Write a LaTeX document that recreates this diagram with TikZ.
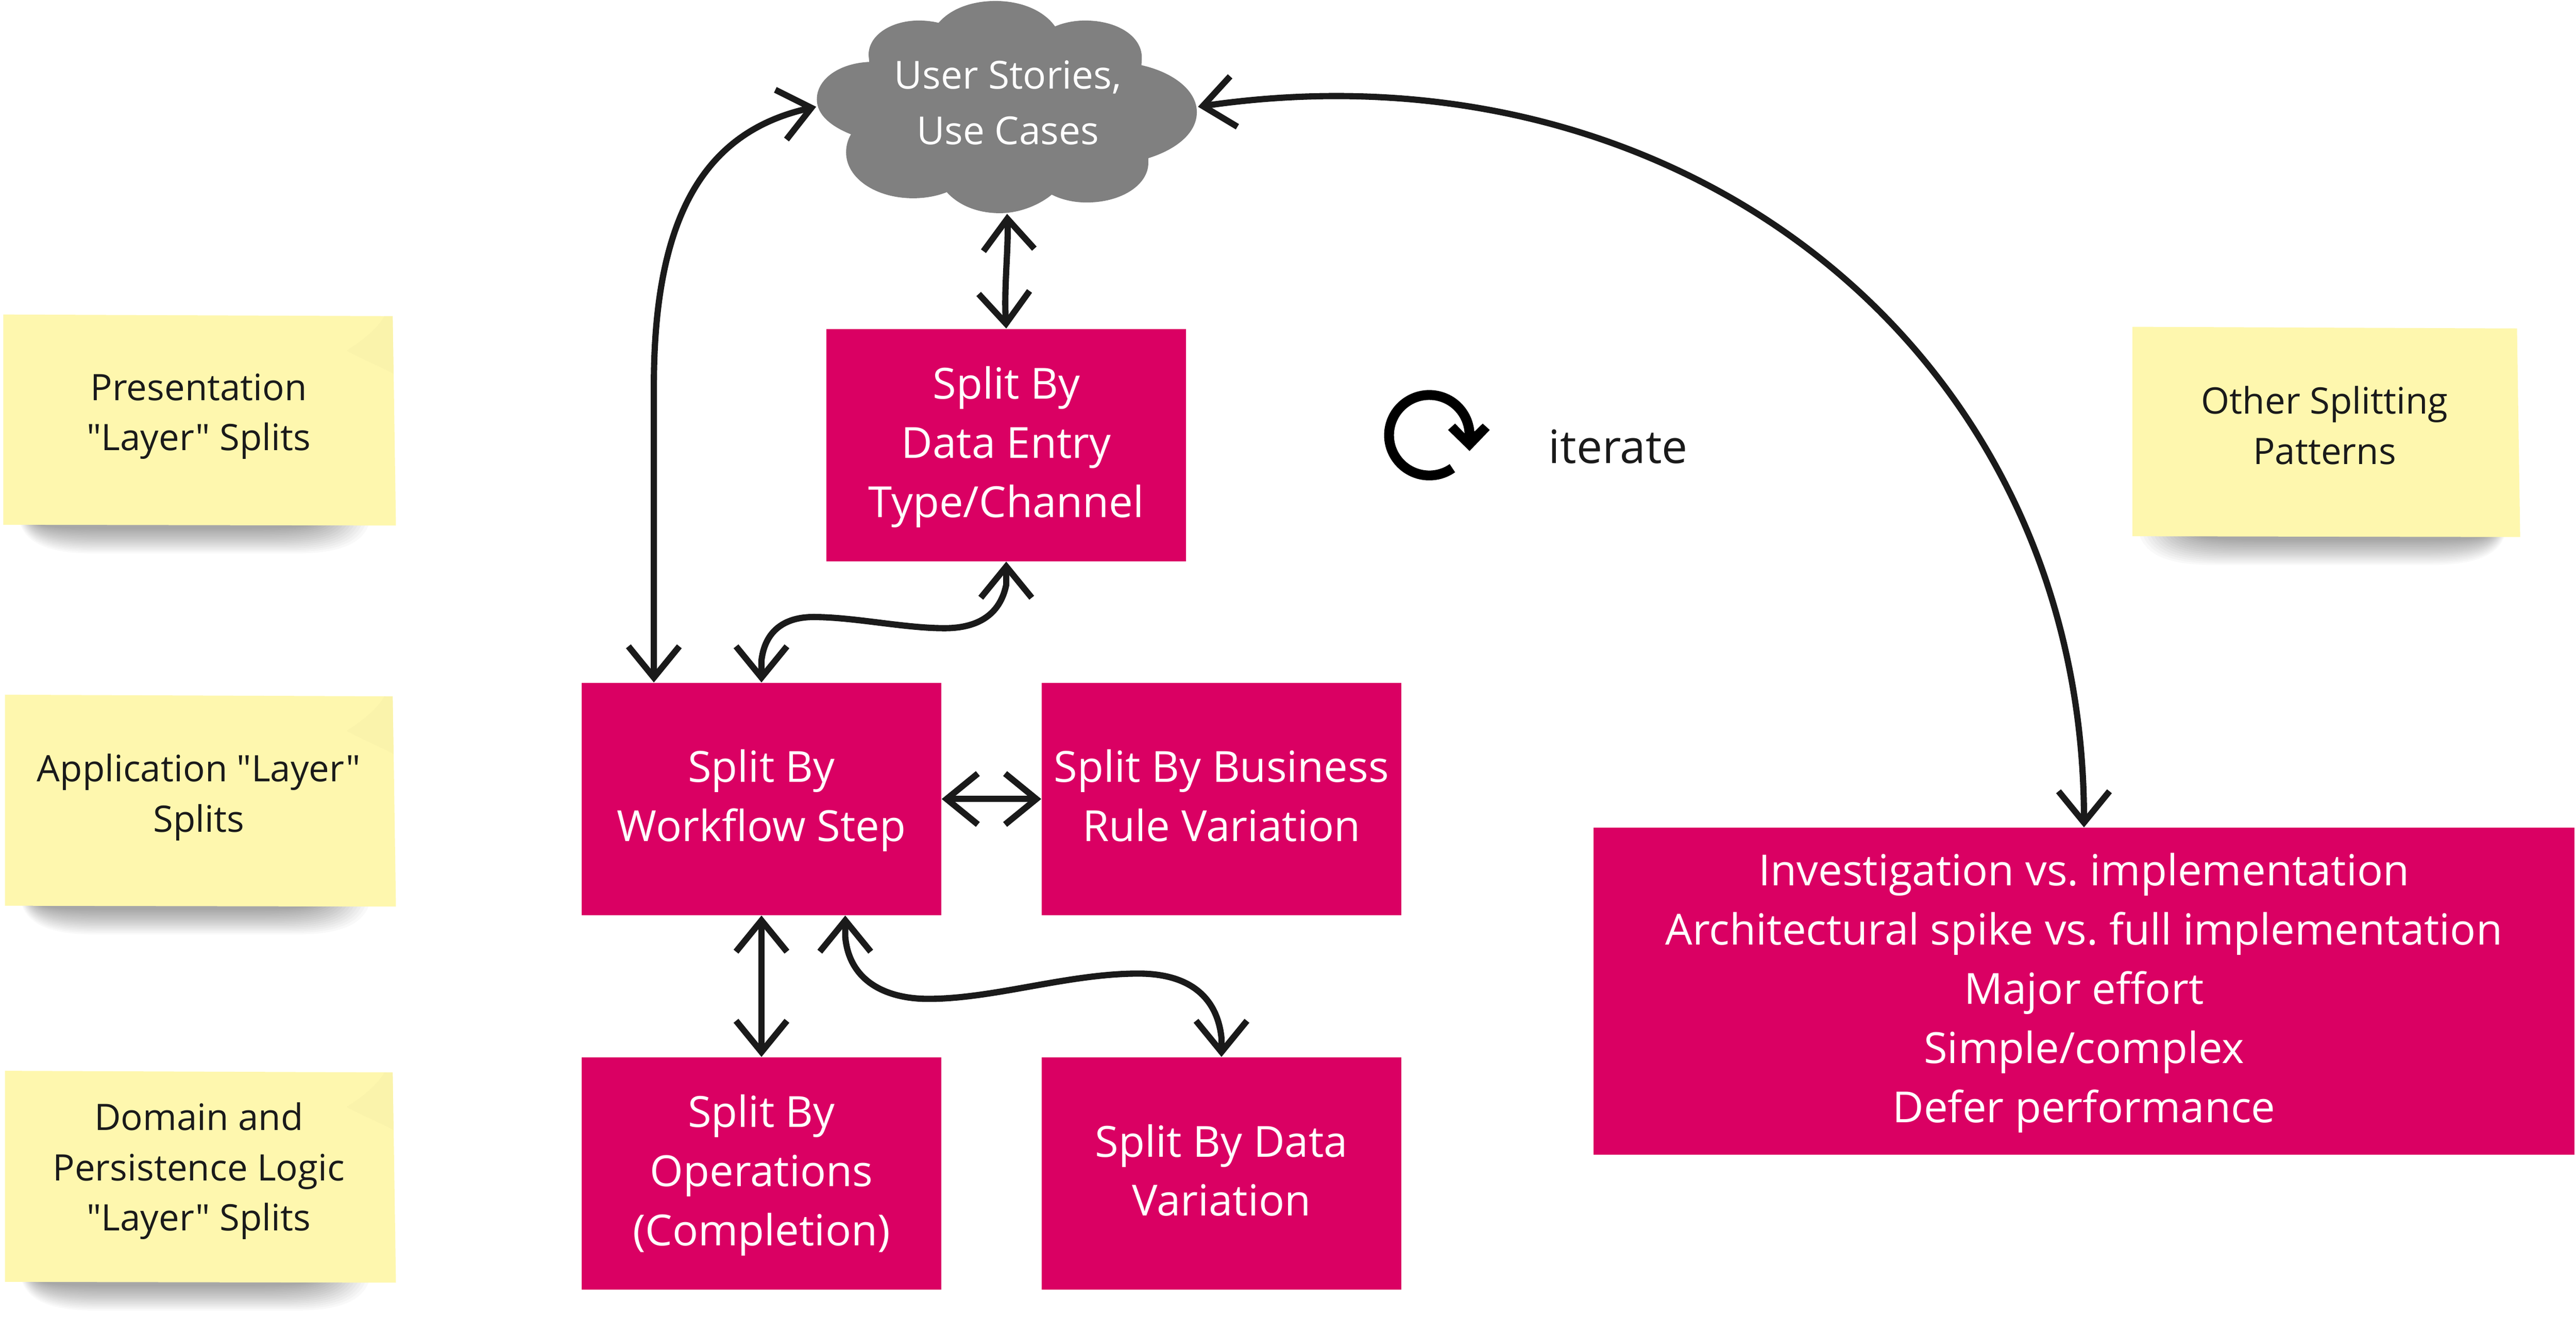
\documentclass[tikz,border=0pt]{standalone}
\usepackage{fontspec}
\setmainfont{Open Sans}[Ligatures=TeXOff]
\usetikzlibrary{arrows.meta,calc}
\definecolor{splitred}{HTML}{DA0063}
\definecolor{inkblack}{HTML}{1A1A1A}
\definecolor{stickyyellow}{HTML}{FEF7AE}
\definecolor{cloudgrey}{HTML}{808080}
\newcommand{\topstrut}{\rule{0pt}{25.2pt}}
\newcommand{\botstrut}{\rule[-9.5pt]{0pt}{0pt}}
\frenchspacing
\tikzset{
  x=1pt,y=-1pt,
  splitbox/.style={fill=splitred,text=white,inner sep=0pt,minimum width=219pt,minimum height=141.5pt,align=center,font=\fontsize{26.1}{36}\selectfont\frenchspacing},
  bigbox/.style={splitbox,minimum width=597pt,minimum height=199pt},
  stickytext/.style={text=inkblack,align=center,inner sep=0pt,font=\fontsize{22.2}{30.5}\selectfont},
  link/.style={draw=inkblack,line width=3.8pt,{Straight Barb[length=19pt,width=31pt]}-{Straight Barb[length=19pt,width=31pt]}},
}
% #1 left, #2 top, #3 right, #4 bottom, #5 fold shade, #6 left inset, #7 left rate, #8 right inset, #9 right rate
\newcommand{\stickynote}[9]{%
  \foreach \i in {0,...,15}{
    \pgfmathsetmacro{\xl}{#1+#6+\i*#7}
    \pgfmathsetmacro{\xr}{#3-#8-\i*#9}
    \pgfmathsetmacro{\dep}{17-\i}
    \fill[black,opacity=0.024]
      (\xl,#4-2) -- (\xr,#4-2)
      .. controls (\xr-4,#4+0.7*\dep) and (\xr-20,#4+\dep) .. (\xr-45,#4+\dep)
      -- (\xl+45,#4+\dep)
      .. controls (\xl+20,#4+\dep) and (\xl+4,#4+0.7*\dep) .. cycle;
  }
  \fill[stickyyellow] (#1,#2) -- (#3-1,#2+1) -- (#3-0.5,#2+30) -- (#3+1,#4) -- (#1,#4-0.5) -- cycle;
  \fill[#5] (#3-1,#2+1) -- (#3-0.5,#2+36) .. controls (#3-10,#2+31) and (#3-20,#2+27) .. (#3-29,#2+22) .. controls (#3-18,#2+15) and (#3-10,#2+8) .. (#3-6,#2+1) -- cycle;
}
\begin{document}
\begin{tikzpicture}
\useasboundingbox (0,0) rectangle (1568,803);
\fill[white] (0,0) rectangle (1568,803);

% sticky notes
\stickynote{2}{191.5}{240}{320}{stickyyellow!98.5!black}{10}{0.6}{15}{2.2}
\stickynote{3}{423}{240}{552}{stickyyellow!98.5!black}{10}{0.6}{15}{2.2}
\stickynote{3}{652}{240}{781}{stickyyellow!98.5!black}{10}{0.6}{15}{2.2}
\stickynote{1298}{199}{1533}{327}{stickyyellow}{4}{2.2}{8}{0.6}
\node[stickytext] (presentation) at (121,253.5) {Presentation\\"Layer" Splits};
\node[stickytext] (application) at (121,485.5) {Application "Layer"\\Splits};
\node[stickytext] (domain) at (121,713) {Domain and\\Persistence Logic\\"Layer" Splits};
\node[stickytext] (other) at (1415,259) {Other Splitting\\Patterns};

% cloud
\fill[cloudgrey] (571.3,13.9)
  .. controls (579,5) and (592,0.6) .. (606,0.6)
  .. controls (621,0.6) and (635,6) .. (642.2,16.1)
  .. controls (647.5,13.8) and (654,12.5) .. (660.5,12.5)
  .. controls (680,12.5) and (695,22) .. (695,35)
  -- (694.8,39.7)
  .. controls (714,44) and (728.5,55) .. (728.5,68.3)
  .. controls (728.5,81) and (716,91) .. (699,96.3)
  -- (699,99)
  .. controls (699,113) and (682,123.3) .. (661.4,123.3)
  .. controls (653.5,123.3) and (646,121.5) .. (640.2,118.5)
  .. controls (633,124.5) and (621,129.8) .. (608.6,129.8)
  .. controls (595,129.8) and (583.5,125) .. (576.3,117)
  .. controls (570,119.5) and (563,120.7) .. (555.8,120.7)
  .. controls (533,120.7) and (515,108.5) .. (515,92.7)
  .. controls (515,89) and (516,85) .. (518,81.8)
  .. controls (506,77) and (497.2,70) .. (497.2,60.5)
  .. controls (497.2,48) and (511,38.5) .. (529.1,37.7)
  -- (528.7,33.5)
  .. controls (528.7,21) and (543,12.5) .. (559.3,12.5)
  .. controls (563.5,12.5) and (567.5,13) .. (571.3,13.9) -- cycle;
\node[minimum width=232pt,minimum height=130pt,inner sep=0pt] (cloud) at (613,65) {};
\node[text=white,align=center,inner sep=0pt,font=\fontsize{23.5}{34}\selectfont] (cloudtext) at (613.5,62.5) {User Stories,\\Use Cases};

% boxes
\node[splitbox] (entry) at (612.5,271) {\topstrut Split By\\Data Entry\\Type/Channel\botstrut};
\node[splitbox] (workflow) at (463.5,486.5) {\topstrut Split By\\Workflow Step\botstrut};
\node[splitbox] (business) at (743.5,486.5) {\topstrut Split By Business\\Rule Variation\botstrut};
\node[splitbox] (operations) at (463.5,714.5) {\topstrut Split By\\Operations\\(Completion)\botstrut};
\node[splitbox] (datavar) at (743.5,714.5) {\topstrut Split By Data\\Variation\botstrut};
\node[bigbox] (big) at (1268.5,603.5) {\topstrut Investigation vs. implementation\\Architectural spike vs. full implementation\\Major effort\\Simple/complex\\Defer performance\botstrut};

% iterate
\draw[line width=6pt,black] (884.05,285.07) arc[start angle=55,end angle=357,radius=24.5];
\fill[black] (894.5,274.6) -- (906.8,261.8) -- (902.5,257.9) -- (897.8,262.5) -- (891.4,263.8) -- (885.7,257.9) -- (881.4,261.8) -- cycle;
\node[text=inkblack,inner sep=0pt,font=\fontsize{28}{36}\selectfont] (iterate) at (985,272) {iterate};

% connectors
\draw[link] (cloud.south) .. controls (614,150) and (611,175) .. (entry.north);
\draw[link] (cloud.west) .. controls (430,80) and (398,130) .. (398,235) -- ($(workflow.north)+(-65.5,0)$);
\draw[link] (cloud.east) .. controls (1025,22) and (1268.5,215) .. (big.north);
\draw[link] (entry.south) -- +(0,14) .. controls (608,378) and (590,382.5) .. (575,382.5)
  .. controls (550,382.5) and (520,375.7) .. (495,375.7)
  .. controls (480,375.7) and (466,382) .. (463.5,402) -- (workflow.north);
\draw[link] (workflow.east) -- (business.west);
\draw[link] (workflow.south) -- (operations.north);
\draw[link] ($(workflow.south)+(51,0)$) -- +(0,13) .. controls (517,598) and (540,608.2) .. (565,608.2)
  .. controls (605,608.2) and (650,592.8) .. (693,592.8)
  .. controls (725,592.8) and (741,608) .. (743.5,632) -- (datavar.north);
\end{tikzpicture}
\end{document}
